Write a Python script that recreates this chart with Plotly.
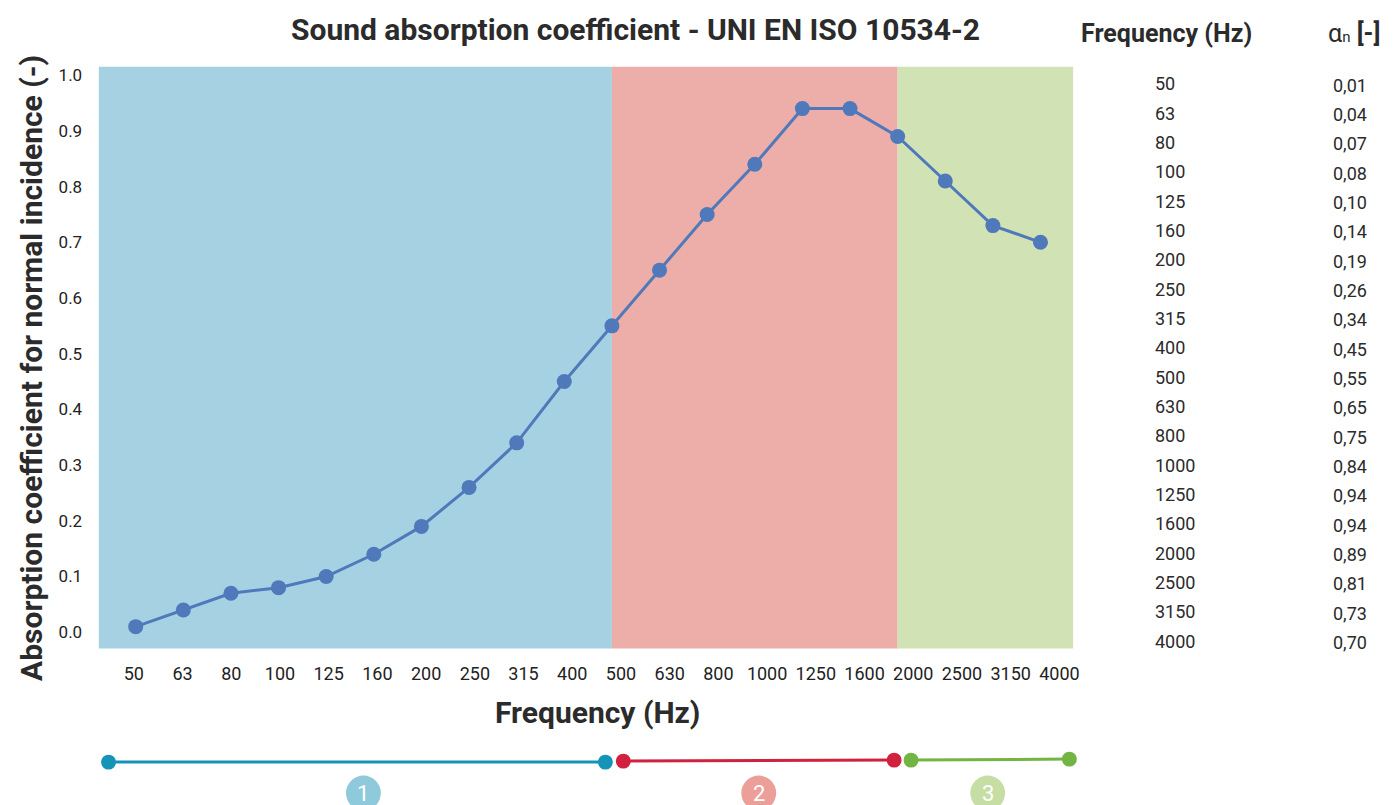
import plotly.graph_objects as go

# ---- data ----
freq_labels = ["50", "63", "80", "100", "125", "160", "200", "250", "315", "400",
               "500", "630", "800", "1000", "1250", "1600", "2000", "2500", "3150", "4000"]
alpha = [0.01, 0.04, 0.07, 0.08, 0.10, 0.14, 0.19, 0.26, 0.34, 0.45,
         0.55, 0.65, 0.75, 0.84, 0.94, 0.94, 0.89, 0.81, 0.73, 0.70]
y_ticks = [0.0, 0.1, 0.2, 0.3, 0.4, 0.5, 0.6, 0.7, 0.8, 0.9, 1.0]
zone_bounds = [10, 16]  # indices where zones change (500 Hz, 2000 Hz)
zone_labels = ["1", "2", "3"]

W, H = 1393, 805
idx = list(range(len(freq_labels)))

def px(x):
    return x / W

def py(y):
    return 1 - y / H

fig = go.Figure()

fig.add_trace(go.Scatter(
    x=idx, y=alpha, mode="lines+markers",
    line=dict(color="#4f79ba", width=3),
    marker=dict(color="#4f79ba", size=15),
    hoverinfo="skip", showlegend=False,
))

xr = [-0.78, 19.69]
shapes = []
bg_cols = ["#a6d1e2", "#edaea9", "#d1e3b4"]
edges = [xr[0]] + zone_bounds + [xr[1]]
for i in range(3):
    shapes.append(dict(type="rect", xref="x", yref="y domain", x0=edges[i], x1=edges[i + 1],
                       y0=0, y1=1, fillcolor=bg_cols[i], line=dict(width=0), layer="below"))

# bottom zone legend
leg = [((109, 762), (608, 762), "#1594b8", 365, "#8ec9dc"),
       ((626, 761), (898, 760), "#d2213f", 762, "#eb9f98"),
       ((915, 760), (1074, 759), "#72b542", 992, "#c6dea3")]
for (a, b, col, cx, ccol) in leg:
    shapes.append(dict(type="line", xref="paper", yref="paper", x0=px(a[0]), y0=py(a[1]),
                       x1=px(b[0]), y1=py(b[1]), line=dict(color=col, width=3)))
    for (x, y) in (a, b):
        r = 7.5
        shapes.append(dict(type="circle", xref="paper", yref="paper",
                           x0=px(x - r), x1=px(x + r), y0=py(y + r), y1=py(y - r),
                           fillcolor=col, line=dict(width=0)))
    R = 17.5
    shapes.append(dict(type="circle", xref="paper", yref="paper",
                       x0=px(cx - R), x1=px(cx + R), y0=py(793 + R), y1=py(793 - R),
                       fillcolor=ccol, line=dict(width=0)))

annotations = []
for (a, b, col, cx, ccol), lab in zip(leg, zone_labels):
    annotations.append(dict(x=px(cx), y=py(793), xref="paper", yref="paper", text=lab,
                            showarrow=False, xanchor="center", yanchor="middle",
                            borderpad=0,
                            font=dict(family="Roboto", size=22, color="white")))

# title
annotations.append(dict(x=px(638), y=py(28), xref="paper", yref="paper",
                        text="<b>Sound absorption coefficient - UNI EN ISO 10534-2</b>",
                        showarrow=False, xanchor="center", yanchor="middle",
                        font=dict(family="Roboto", size=30, color="#2b2b2b")))

# axis titles
annotations.append(dict(x=px(600), y=py(712), xref="paper", yref="paper",
                        text="<b>Frequency (Hz)</b>", showarrow=False,
                        xanchor="center", yanchor="middle",
                        font=dict(family="Roboto", size=30, color="#2b2b2b")))
annotations.append(dict(x=px(31), y=py(367), xref="paper", yref="paper",
                        text="<b>Absorption coefficient for normal incidence (-)</b>",
                        showarrow=False, xanchor="center", yanchor="middle", textangle=-90,
                        font=dict(family="Roboto", size=30, color="#2b2b2b")))

# right table
annotations.append(dict(x=px(1172), y=py(32), xref="paper", yref="paper",
                        text="<b>Frequency (Hz)</b>", showarrow=False,
                        xanchor="center", yanchor="middle",
                        font=dict(family="Roboto", size=25, color="#2b2b2b")))
annotations.append(dict(x=px(1360), y=py(32), xref="paper", yref="paper",
                        text="α<span style='font-size:15px'>n</span> <b>[-]</b>", showarrow=False,
                        xanchor="center", yanchor="middle",
                        font=dict(family="Roboto", size=25, color="#2b2b2b")))
for i, (f, a) in enumerate(zip(freq_labels, alpha)):
    yy = 82 + i * 29.4
    annotations.append(dict(x=px(1158), y=py(yy), xref="paper", yref="paper", text=f,
                            showarrow=False, xanchor="left", yanchor="middle",
                            font=dict(family="Roboto", size=18, color="#2b2b2b")))
    annotations.append(dict(x=px(1337), y=py(yy + 1.5), xref="paper", yref="paper",
                            text=f"{a:.2f}".replace(".", ","),
                            showarrow=False, xanchor="left", yanchor="middle",
                            font=dict(family="Roboto", size=18, color="#2b2b2b")))

tickvals = [i * 1.023 - 0.04 for i in idx]

fig.update_layout(
    width=W, height=H,
    margin=dict(l=0, r=0, t=0, b=0),
    paper_bgcolor="white", plot_bgcolor="white",
    shapes=shapes, annotations=annotations,
    font=dict(family="Roboto", color="#222"),
    xaxis=dict(domain=[px(99), px(1078)], range=xr, tickmode="array",
               tickvals=tickvals, ticktext=freq_labels, showgrid=False, zeroline=False,
               ticks="outside", ticklen=9, tickcolor="rgba(0,0,0,0)",
               tickfont=dict(size=18, color="#222")),
    yaxis=dict(domain=[py(648), py(65)], range=[-0.029, 1.015], tickmode="array",
               tickvals=y_ticks, tickformat=".1f", showgrid=False, zeroline=False,
               ticks="outside", ticklen=12, tickcolor="rgba(0,0,0,0)",
               tickfont=dict(size=17, color="#222")),
)

post = ("document.documentElement.style.overflow='hidden';"
        "document.body.style.margin='0';document.body.style.overflow='hidden';"
        "var d=document.querySelector('.plotly-graph-div');"
        "if(d){d.style.overflow='hidden';d.style.width='1393px';d.style.height='805px';}")
fig.write_html("out.html", config={"displayModeBar": False}, post_script=post)
